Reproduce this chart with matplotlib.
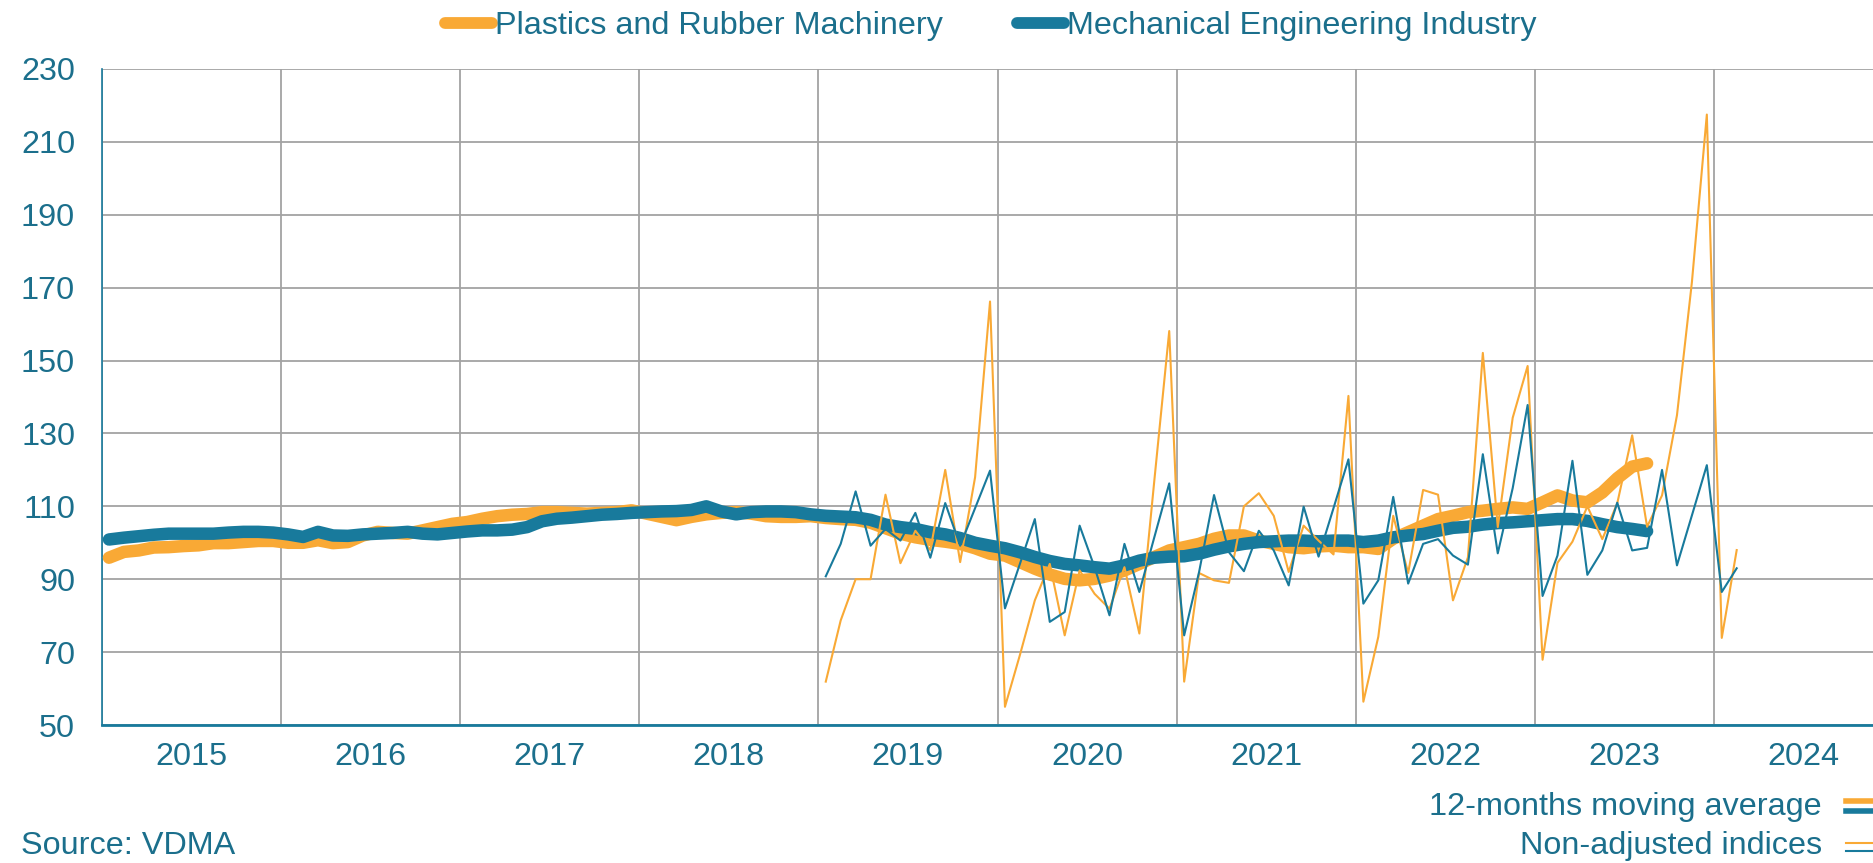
import numpy as np
import matplotlib
matplotlib.use("Agg")
import matplotlib.pyplot as plt
from matplotlib.lines import Line2D

plt.rcParams["font.family"] = ["Liberation Sans", "DejaVu Sans"]

# colours
ORANGE = "#F9A935"
BLUE = "#187A9C"
TEXT = "#1B6F8C"
GRID = "#A3A3A3"
FS = 23.3

# 12-months moving averages, monthly from Jan 2015 to Aug 2023
ma_start = 2015
plastics_ma = [
    95.9, 97.5, 97.9, 98.7, 98.8, 99.1, 99.3, 99.9, 99.9, 100.2, 100.5, 100.5,
    100.0, 100.0, 100.7, 99.9, 100.2, 102.0, 103.0, 102.7, 102.5, 103.4, 104.3, 105.2,
    105.7, 106.6, 107.3, 107.7, 107.9, 108.4, 108.4, 108.2, 108.0, 108.2, 108.4, 108.9,
    108.0, 107.1, 106.2, 107.1, 107.8, 108.2, 108.4, 108.0, 107.3, 107.1, 107.1, 107.3,
    106.8, 106.5, 106.3, 105.5, 104.0, 102.5, 101.5, 100.8, 100.3, 99.7, 98.5, 97.0,
    96.5, 94.7, 92.9, 91.3, 90.1, 89.7, 90.1, 91.0, 92.4, 94.2, 96.1, 97.9,
    98.8, 99.7, 101.1, 102.0, 102.0, 100.6, 99.7, 98.8, 98.5, 99.0, 99.2, 98.8,
    98.8, 98.3, 101.1, 102.9, 104.7, 106.5, 107.4, 108.4, 108.8, 109.3, 109.7, 109.3,
    111.1, 113.0, 111.6, 111.1, 113.8, 117.7, 120.9, 121.8,
]
mech_ma = [
    100.9, 101.4, 101.8, 102.2, 102.5, 102.5, 102.5, 102.5, 102.8, 103.0, 103.0, 102.8,
    102.3, 101.6, 103.0, 102.0, 101.9, 102.3, 102.5, 102.7, 103.0, 102.5, 102.3, 102.7,
    103.1, 103.4, 103.4, 103.6, 104.3, 105.9, 106.6, 106.9, 107.3, 107.7, 107.9, 108.2,
    108.4, 108.6, 108.7, 109.0, 110.0, 108.6, 107.8, 108.4, 108.6, 108.6, 108.4, 107.8,
    107.4, 107.2, 107.0, 106.3, 105.0, 104.3, 103.8, 102.9, 102.3, 101.3, 100.0, 99.2,
    98.5, 97.4, 96.1, 95.0, 94.2, 93.8, 93.3, 92.9, 93.8, 95.1, 95.9, 96.2,
    96.3, 97.0, 98.1, 99.0, 99.7, 100.2, 100.4, 100.6, 100.6, 100.4, 100.6, 100.6,
    100.2, 100.6, 101.5, 102.0, 102.4, 103.3, 104.1, 104.4, 105.0, 105.4, 105.6, 105.9,
    106.2, 106.5, 106.5, 106.0, 105.1, 104.3, 103.8, 103.2,
]

# non-adjusted indices, monthly from Jan 2019 to Feb 2024
raw_start = 2019
plastics_raw = [
    61.9, 78.7, 90.0, 90.0, 113.2, 94.4, 103.3, 98.0, 120.0, 94.7, 118.0, 166.2,
    55.0, 69.2, 84.2, 94.2, 74.6, 92.4, 86.0, 81.9, 93.3, 75.1, 117.0, 158.1,
    61.9, 91.7, 89.7, 89.0, 110.0, 113.6, 107.4, 92.0, 104.7, 100.6, 96.8, 140.3,
    56.4, 74.2, 107.4, 91.7, 114.5, 113.2, 84.2, 96.0, 152.1, 104.3, 134.3, 148.5,
    67.9, 94.5, 100.3, 110.0, 101.0, 110.8, 129.5, 104.4, 113.0, 135.0, 171.5, 217.5,
    73.9, 98.0,
]
mech_raw = [
    90.8, 99.7, 114.1, 99.2, 103.8, 100.6, 108.2, 95.9, 110.9, 99.2, 109.5, 119.8,
    82.0, 94.2, 106.5, 78.3, 81.0, 104.7, 93.3, 80.1, 99.7, 86.5, 101.5, 116.3,
    74.6, 92.0, 113.1, 97.4, 92.2, 103.3, 97.9, 88.3, 109.9, 96.2, 109.5, 122.9,
    83.3, 89.7, 112.6, 88.8, 99.7, 101.0, 96.5, 94.0, 124.3, 97.1, 115.0, 137.8,
    85.4, 96.5, 122.5, 91.2, 97.9, 111.0, 97.9, 98.6, 120.0, 93.8, 107.5, 121.3,
    86.5, 93.0,
]

years = list(range(2015, 2025))
y_ticks = list(range(50, 231, 20))


def month_x(start, n):
    # month centres as fractional years
    return start + (np.arange(n) + 0.5) / 12


W, H = 1873, 863
fig = plt.figure(figsize=(W / 100, H / 100), dpi=100)
ax = fig.add_axes([101.5 / W, 1 - 725 / H, (1893.5 - 101.5) / W, (725 - 69) / H])

ax.plot(month_x(ma_start, len(plastics_ma)), plastics_ma, color=ORANGE, lw=9,
        solid_capstyle="round", solid_joinstyle="round", zorder=3)
ax.plot(month_x(ma_start, len(mech_ma)), mech_ma, color=BLUE, lw=9,
        solid_capstyle="round", solid_joinstyle="round", zorder=4)
ax.plot(month_x(raw_start, len(plastics_raw)), plastics_raw, color=ORANGE, lw=1.5, zorder=5)
ax.plot(month_x(raw_start, len(mech_raw)), mech_raw, color=BLUE, lw=1.5, zorder=6)

ax.set_xlim(years[0], years[-1] + 1)
ax.set_ylim(y_ticks[0], y_ticks[-1])
ax.set_yticks(y_ticks)
ax.set_xticks(years + [years[-1] + 1])
ax.set_xticklabels([])
ax.set_xticks([y + 0.5 for y in years], minor=True)
ax.set_xticklabels([str(y) for y in years], minor=True)
ax.tick_params(axis="both", which="both", length=0, labelsize=FS, labelcolor=TEXT)
ax.tick_params(axis="y", pad=19)
ax.tick_params(axis="x", which="minor", pad=12)
ax.grid(True, which="major", color=GRID, lw=1.3)
ax.set_axisbelow(True)

for side in ["top", "right"]:
    ax.spines[side].set_visible(False)
ax.spines["left"].set_color(BLUE)
ax.spines["left"].set_linewidth(1.2)
ax.spines["bottom"].set_color(BLUE)
ax.spines["bottom"].set_linewidth(2)
ax.spines["bottom"].set_zorder(7)

# top legend
handles = [Line2D([], [], color=ORANGE, lw=8.5, solid_capstyle="round"),
           Line2D([], [], color=BLUE, lw=8.5, solid_capstyle="round")]
fig.legend(handles, ["Plastics and Rubber Machinery", "Mechanical Engineering Industry"],
           loc="center", bbox_to_anchor=(0.529, 1 - 26 / H), ncol=2, frameon=False,
           fontsize=FS, labelcolor=TEXT, handlelength=1.45, handletextpad=0.1,
           columnspacing=2.3)

# bottom notes
fig.text(1822 / W, 1 - 807 / H, "12-months moving average", ha="right", va="center",
         fontsize=FS, color=TEXT)
fig.text(1822 / W, 1 - 846 / H, "Non-adjusted indices", ha="right", va="center",
         fontsize=FS, color=TEXT)
fig.text(21 / W, 1 - 846 / H, "Source: VDMA", ha="left", va="center",
         fontsize=FS, color=TEXT)
for yy, col, lw in [(801, ORANGE, 4), (811, BLUE, 4), (843, ORANGE, 1.5), (851, BLUE, 1.5)]:
    fig.add_artist(Line2D([1846 / W, 1890 / W], [1 - yy / H, 1 - yy / H],
                          transform=fig.transFigure, color=col, lw=lw))

fig.savefig("out.png", dpi=100)
